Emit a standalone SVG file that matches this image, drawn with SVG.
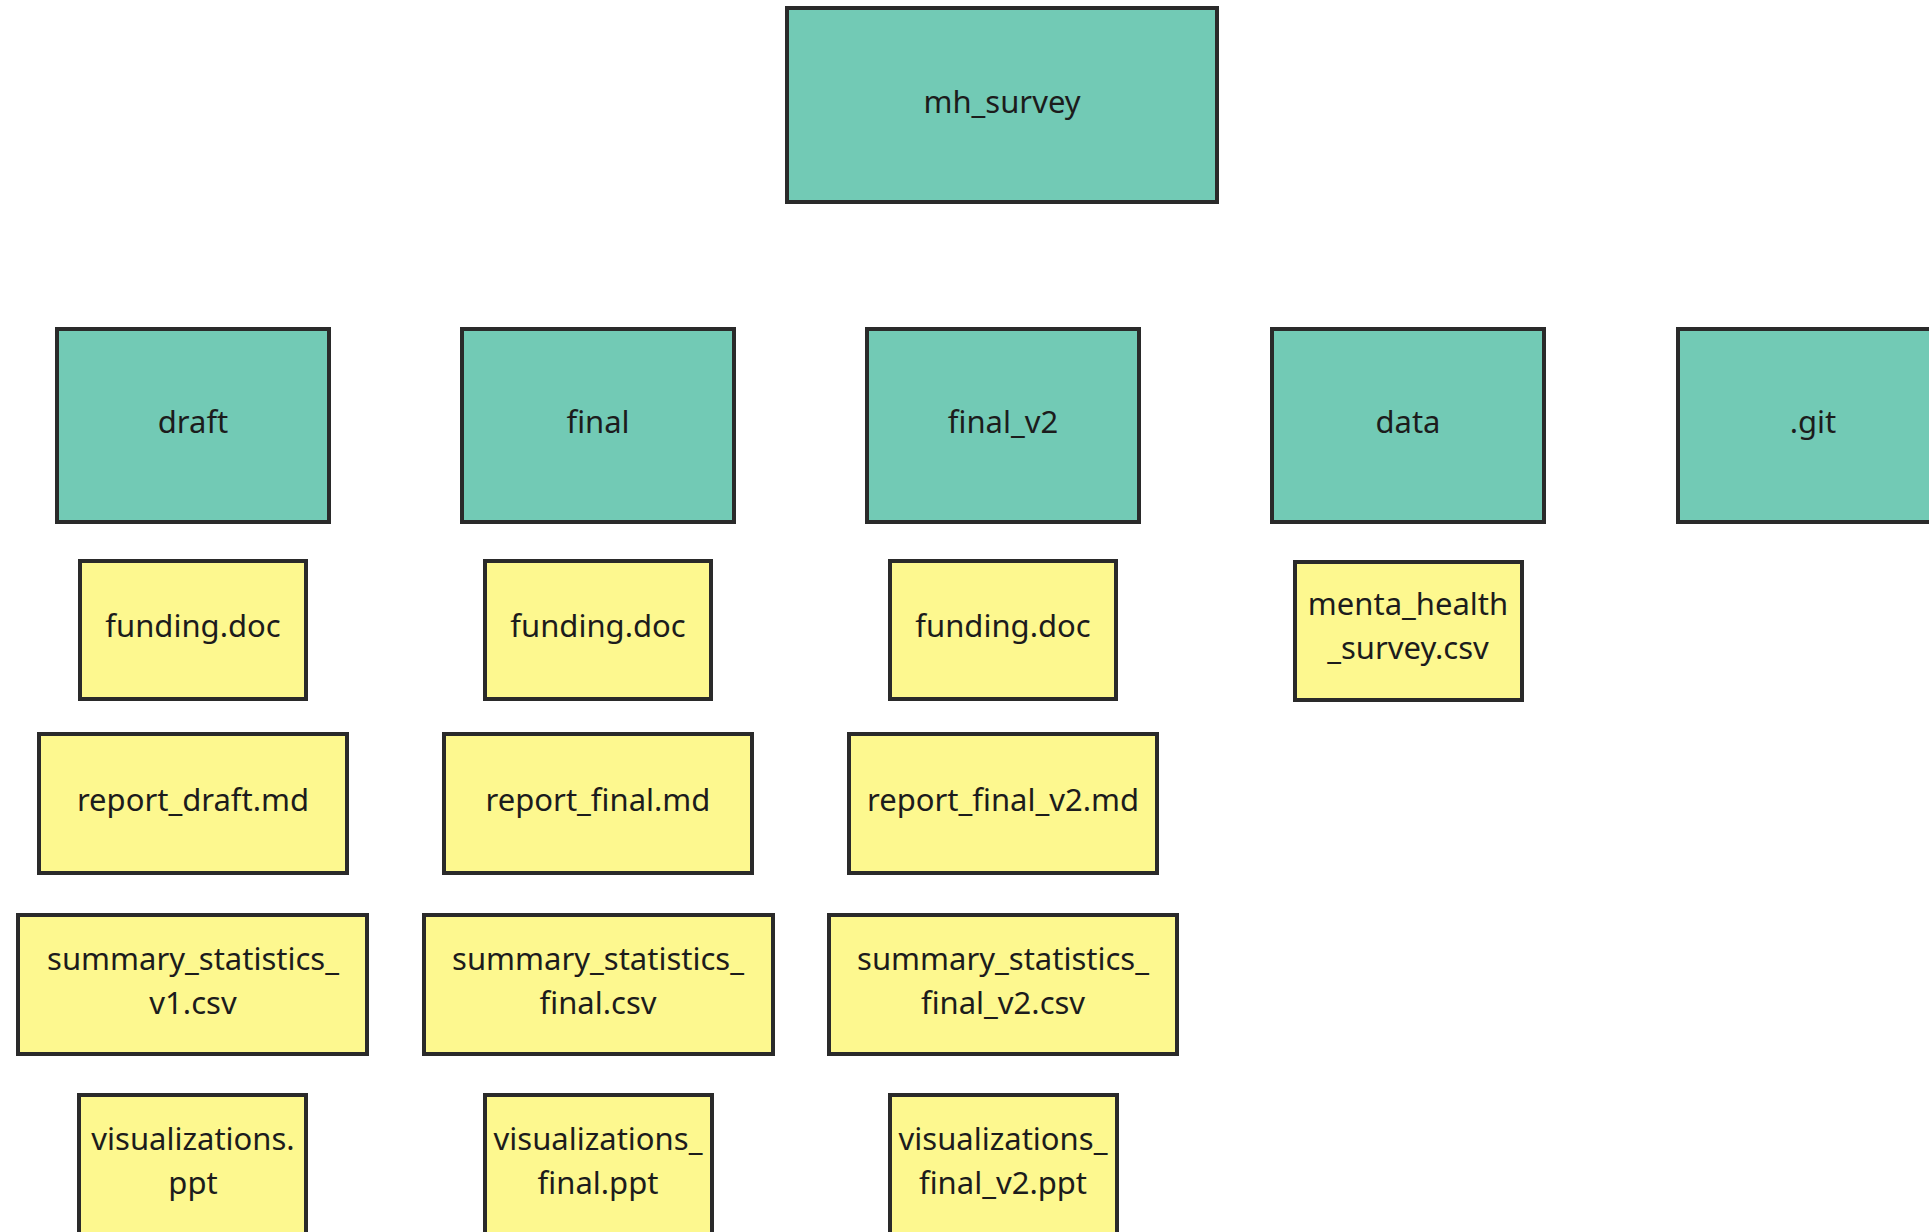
<svg xmlns="http://www.w3.org/2000/svg" width="1929" height="1232" viewBox="0 0 1929 1232">
  <style>
    .folder rect { fill: #72cab5; stroke: #2a2a2a; stroke-width: 4; }
    .file rect { fill: #fdf88f; stroke: #2a2a2a; stroke-width: 4; }
    text { font-family: "Noto Sans", "Open Sans", "DejaVu Sans", sans-serif; font-size: 31px; fill: #1c1c1c; text-anchor: middle; }
  </style>
  <rect width="1929" height="1232" fill="#ffffff"/>

  <!-- folders -->
  <g id="mh_survey" class="folder">
    <rect x="787" y="8" width="430" height="194"/>
    <text x="1002" y="113">mh_survey</text>
  </g>
  <g id="draft" class="folder">
    <rect x="57" y="329" width="272" height="193"/>
    <text x="193" y="433">draft</text>
  </g>
  <g id="final" class="folder">
    <rect x="462" y="329" width="272" height="193"/>
    <text x="598" y="433">final</text>
  </g>
  <g id="final_v2" class="folder">
    <rect x="867" y="329" width="272" height="193"/>
    <text x="1003" y="433">final_v2</text>
  </g>
  <g id="data" class="folder">
    <rect x="1272" y="329" width="272" height="193"/>
    <text x="1408" y="433">data</text>
  </g>
  <g id="git" class="folder">
    <rect x="1678" y="329" width="272" height="193"/>
    <text x="1813" y="433">.git</text>
  </g>

  <!-- draft files -->
  <g id="draft_funding" class="file">
    <rect x="80" y="561" width="226" height="138"/>
    <text x="193" y="637">funding.doc</text>
  </g>
  <g id="draft_report" class="file">
    <rect x="39" y="734" width="308" height="139"/>
    <text x="193" y="811">report_draft.md</text>
  </g>
  <g id="draft_summary" class="file">
    <rect x="18" y="915" width="349" height="139"/>
    <text x="193" y="970">summary_statistics_</text>
    <text x="193" y="1014">v1.csv</text>
  </g>
  <g id="draft_visualizations" class="file">
    <rect x="79" y="1095" width="227" height="141"/>
    <text x="193" y="1150">visualizations.</text>
    <text x="193" y="1194">ppt</text>
  </g>

  <!-- final files -->
  <g id="final_funding" class="file">
    <rect x="485" y="561" width="226" height="138"/>
    <text x="598" y="637">funding.doc</text>
  </g>
  <g id="final_report" class="file">
    <rect x="444" y="734" width="308" height="139"/>
    <text x="598" y="811">report_final.md</text>
  </g>
  <g id="final_summary" class="file">
    <rect x="424" y="915" width="349" height="139"/>
    <text x="598" y="970">summary_statistics_</text>
    <text x="598" y="1014">final.csv</text>
  </g>
  <g id="final_visualizations" class="file">
    <rect x="485" y="1095" width="227" height="141"/>
    <text x="598" y="1150">visualizations_</text>
    <text x="598" y="1194">final.ppt</text>
  </g>

  <!-- final_v2 files -->
  <g id="final_v2_funding" class="file">
    <rect x="890" y="561" width="226" height="138"/>
    <text x="1003" y="637">funding.doc</text>
  </g>
  <g id="final_v2_report" class="file">
    <rect x="849" y="734" width="308" height="139"/>
    <text x="1003" y="811">report_final_v2.md</text>
  </g>
  <g id="final_v2_summary" class="file">
    <rect x="829" y="915" width="348" height="139"/>
    <text x="1003" y="970">summary_statistics_</text>
    <text x="1003" y="1014">final_v2.csv</text>
  </g>
  <g id="final_v2_visualizations" class="file">
    <rect x="890" y="1095" width="227" height="141"/>
    <text x="1003" y="1150">visualizations_</text>
    <text x="1003" y="1194">final_v2.ppt</text>
  </g>

  <!-- data files -->
  <g id="data_survey" class="file">
    <rect x="1295" y="562" width="227" height="138"/>
    <text x="1408" y="615">menta_health</text>
    <text x="1408" y="659">_survey.csv</text>
  </g>

  <g id="connectors"/>
</svg>
